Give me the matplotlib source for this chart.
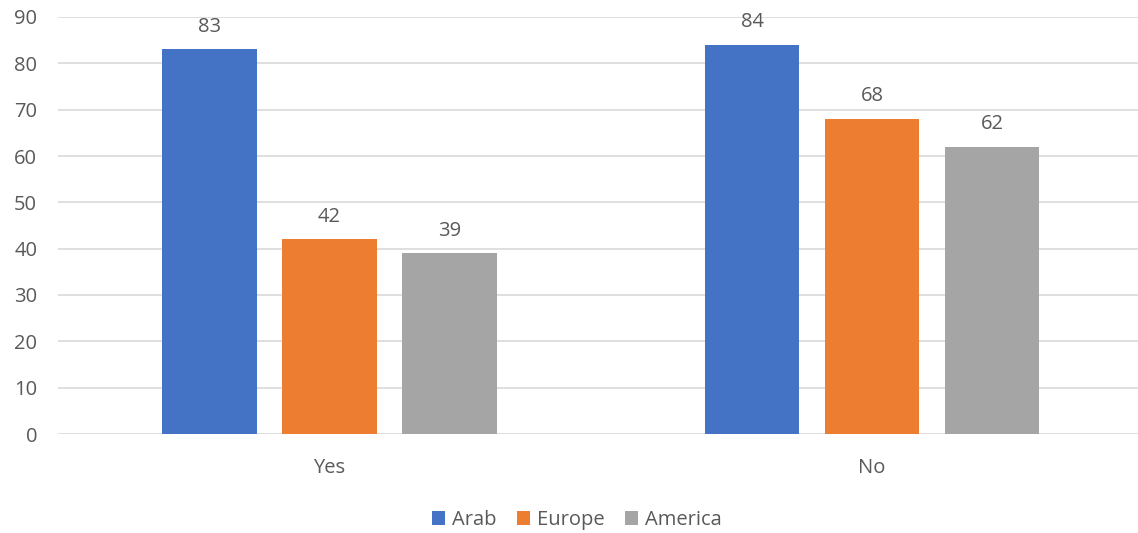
import numpy as np
import matplotlib.pyplot as plt
from matplotlib.patches import Patch

# --- Daten ---
categories = ['Yes', 'No']
series_names = ['Arab', 'Europe', 'America']
arab = [83, 84]
europe = [42, 68]
america = [39, 62]
y_ticks = [0, 10, 20, 30, 40, 50, 60, 70, 80, 90]

colors = ['#4472C4', '#ED7D31', '#A5A5A5']
text_color = '#595959'
fs = 14.5

plt.rcParams['font.family'] = ['Open Sans', 'DejaVu Sans']

fig = plt.figure(figsize=(11.38, 5.33), dpi=100)
ax = fig.add_axes([58 / 1138, 99 / 533, 1 - 58 / 1138, 417 / 533])

x = np.arange(len(categories))
offsets = [-0.221, 0, 0.221]
width = 0.174

for vals, off, col in zip([arab, europe, america], offsets, colors):
    bars = ax.bar(x + off, vals, width, color=col, zorder=3)
    for b, v in zip(bars, vals):
        ax.annotate(str(v), (b.get_x() + b.get_width() / 2, v),
                    xytext=(0, 9), textcoords='offset points',
                    ha='center', va='bottom', fontsize=fs, color=text_color)

ax.set_xlim(-0.5, 1.49)
ax.set_ylim(0, 90)
ax.set_yticks(y_ticks)
ax.set_xticks(x)
ax.set_xticklabels(categories)
ax.tick_params(axis='both', length=0, labelsize=fs, labelcolor=text_color)
ax.tick_params(axis='y', pad=15)
ax.tick_params(axis='x', pad=17)
ax.yaxis.grid(True, color='#D9D9D9', linewidth=1.2, zorder=0)
for s in ax.spines.values():
    s.set_visible(False)

handles = [Patch(facecolor=c, label=n) for c, n in zip(colors, series_names)]
fig.legend(handles=handles, loc='center', bbox_to_anchor=(577 / 1138, 1 - 520 / 533),
           ncol=3, frameon=False, fontsize=fs, labelcolor=text_color,
           handlelength=0.65, handleheight=0.65, handletextpad=0.35, columnspacing=1.0)

fig.savefig('out.png', dpi=100)
